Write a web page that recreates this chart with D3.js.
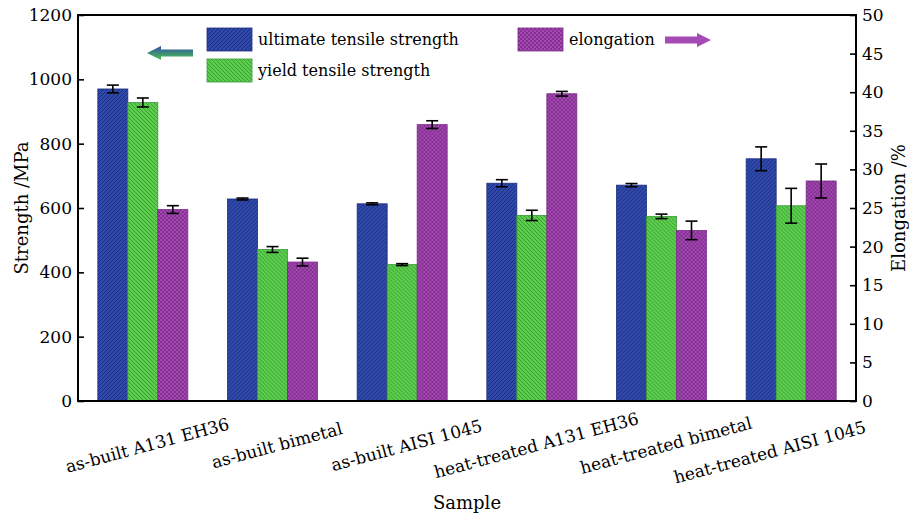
<!DOCTYPE html>
<html>
<head>
<meta charset="utf-8">
<script src="https://cdn.jsdelivr.net/npm/d3@7"></script>
<style>
body { margin: 0; background: #fff; }
svg text { font-family: 'DejaVu Serif', 'Liberation Serif', serif; fill: #000; }
</style>
</head>
<body>
<div id="chart"></div>
<script>
// values
var categories = ["as-built A131 EH36", "as-built bimetal", "as-built AISI 1045",
                  "heat-treated A131 EH36", "heat-treated bimetal", "heat-treated AISI 1045"];
var uts      = [970, 628, 613, 677, 671, 753];   // MPa
var utsErr   = [12, 3, 3, 11, 5, 37];
var yts      = [928, 471, 424, 577, 574, 607];   // MPa
var ytsErr   = [14, 9, 3, 16, 7, 54];
var elong    = [24.8, 18.0, 35.8, 39.8, 22.1, 28.5]; // %
var elongErr = [0.5, 0.5, 0.5, 0.3, 1.2, 2.2];
var strengthTicks = [0, 200, 400, 600, 800, 1000, 1200];
var elongTicks = [0, 5, 10, 15, 20, 25, 30, 35, 40, 45, 50];
var seriesKeys = ["uts", "yts", "elong"];
var seriesNames = {uts: "ultimate tensile strength", yts: "yield tensile strength", elong: "elongation"};

var margin = {top: 15, right: 53, bottom: 115, left: 78},
    width = 909 - margin.left - margin.right,
    height = 516 - margin.top - margin.bottom;

var svg = d3.select("#chart")
  .append("svg")
    .attr("width", 909)
    .attr("height", 516);

// fill patterns
var defs = svg.append("defs");
var pBlue = defs.append("pattern").attr("id", "p-uts")
  .attr("patternUnits", "userSpaceOnUse").attr("width", 4).attr("height", 4);
pBlue.append("rect").attr("width", 4).attr("height", 4).attr("fill", "#2f4aab");
pBlue.append("path").attr("d", "M0,4L4,0M-1,1L1,-1M3,5L5,3")
  .attr("stroke", "#1c2d80").attr("stroke-width", 1);

var pGreen = defs.append("pattern").attr("id", "p-yts")
  .attr("patternUnits", "userSpaceOnUse").attr("width", 4).attr("height", 4);
pGreen.append("rect").attr("width", 4).attr("height", 4).attr("fill", "#5fcd4c");
pGreen.append("path").attr("d", "M0,0L4,4M-1,3L1,5M3,-1L5,1")
  .attr("stroke", "#35a03a").attr("stroke-width", 1);

var pPurple = defs.append("pattern").attr("id", "p-elong")
  .attr("patternUnits", "userSpaceOnUse").attr("width", 4).attr("height", 4);
pPurple.append("rect").attr("width", 4).attr("height", 4).attr("fill", "#a448b4");
pPurple.append("rect").attr("width", 2).attr("height", 2).attr("fill", "#84308f");
pPurple.append("rect").attr("x", 2).attr("y", 2).attr("width", 2).attr("height", 2).attr("fill", "#84308f");

var grad = defs.append("linearGradient").attr("id", "g-arrow")
  .attr("x1", 0).attr("y1", 0).attr("x2", 0).attr("y2", 1);
grad.append("stop").attr("offset", "0%").attr("stop-color", "#2f4aab");
grad.append("stop").attr("offset", "100%").attr("stop-color", "#4cc84a");

var strokeColor = {uts: "#1c2d80", yts: "#3a9a3a", elong: "#7a2c88"};

var g = svg.append("g")
  .attr("transform", "translate(" + margin.left + "," + margin.top + ")");

var x0 = d3.scaleBand().domain(categories).range([0, width]).padding(0);
var bw = x0.bandwidth();
var x1 = d3.scaleBand().domain(seriesKeys).range([bw / 2 - 45, bw / 2 + 45]);
var y = d3.scaleLinear().domain([0, 1200]).range([height, 0]);
var y2 = d3.scaleLinear().domain([0, 50]).range([height, 0]);

var rows = categories.map(function(c, i) {
  return {cat: c, vals: [
    {key: "uts", v: uts[i], e: utsErr[i], s: y},
    {key: "yts", v: yts[i], e: ytsErr[i], s: y},
    {key: "elong", v: elong[i], e: elongErr[i], s: y2}
  ]};
});

var groups = g.selectAll(".grp")
  .data(rows)
  .enter()
  .append("g")
    .attr("class", "grp")
    .attr("transform", function(d) { return "translate(" + x0(d.cat) + ",0)"; });

groups.selectAll("rect")
  .data(function(d) { return d.vals; })
  .enter()
  .append("rect")
    .attr("x", function(d) { return x1(d.key); })
    .attr("y", function(d) { return d.s(d.v); })
    .attr("width", x1.bandwidth())
    .attr("height", function(d) { return height - d.s(d.v); })
    .attr("fill", function(d) { return "url(#p-" + d.key + ")"; })
    .attr("stroke", function(d) { return strokeColor[d.key]; })
    .attr("stroke-width", 0.8);

// error bars
var eb = groups.selectAll(".err")
  .data(function(d) { return d.vals; })
  .enter()
  .append("g")
    .attr("class", "err")
    .attr("stroke", "#000")
    .attr("stroke-width", 1.6);
eb.append("line")
  .attr("x1", function(d) { return x1(d.key) + x1.bandwidth() / 2; })
  .attr("x2", function(d) { return x1(d.key) + x1.bandwidth() / 2; })
  .attr("y1", function(d) { return d.s(d.v - d.e); })
  .attr("y2", function(d) { return d.s(d.v + d.e); });
eb.selectAll(".cap")
  .data(function(d) { return [d.v - d.e, d.v + d.e].map(function(t) { return {key: d.key, t: t, s: d.s}; }); })
  .enter()
  .append("line")
    .attr("class", "cap")
    .attr("x1", function(d) { return x1(d.key) + x1.bandwidth() / 2 - 6; })
    .attr("x2", function(d) { return x1(d.key) + x1.bandwidth() / 2 + 6; })
    .attr("y1", function(d) { return d.s(d.t); })
    .attr("y2", function(d) { return d.s(d.t); });

// axes
var yAxis = g.append("g")
  .call(d3.axisLeft(y).tickValues(strengthTicks).tickFormat(d3.format("d"))
    .tickSizeInner(-6).tickSizeOuter(0).tickPadding(6));
var y2Axis = g.append("g")
  .attr("transform", "translate(" + width + ",0)")
  .call(d3.axisRight(y2).tickValues(elongTicks).tickFormat(d3.format("d"))
    .tickSizeInner(-6).tickSizeOuter(0).tickPadding(6));
[yAxis, y2Axis].forEach(function(a) {
  a.attr("font-family", null).attr("font-size", null);
  a.select(".domain").remove();
  a.selectAll(".tick line").attr("stroke", "#000").attr("stroke-width", 1.6);
  a.selectAll(".tick text").attr("fill", "#000").style("font-size", "17px");
});

// frame
g.append("rect")
  .attr("width", width)
  .attr("height", height)
  .attr("fill", "none")
  .attr("stroke", "#000")
  .attr("stroke-width", 2);

// category labels, slid back along their slope if they would run past the right edge
var angle = 15, cosA = Math.cos(angle * Math.PI / 180), rightLimit = width + 11;
g.selectAll(".xlab")
  .data(categories)
  .enter()
  .append("text")
    .attr("class", "xlab")
    .attr("text-anchor", "middle")
    .attr("transform", function(d) {
      return "translate(" + (x0(d) + bw / 2 + 6) + "," + (height + 50) + ") rotate(-" + angle + ")";
    })
    .style("font-size", "17px")
    .text(function(d) { return d; })
    .each(function(d) {
      var half = this.getComputedTextLength() / 2 * cosA;
      var over = x0(d) + bw / 2 + 6 + half - rightLimit;
      if (over > 0) d3.select(this).attr("x", -over / cosA);
    });

// axis titles
g.append("text")
  .attr("text-anchor", "middle")
  .attr("transform", "translate(" + (28 - margin.left) + "," + (height / 2) + ") rotate(-90)")
  .style("font-size", "18px")
  .text("Strength /MPa");
g.append("text")
  .attr("text-anchor", "middle")
  .attr("transform", "translate(" + (width + 49) + "," + (height / 2) + ") rotate(-90)")
  .style("font-size", "18px")
  .text("Elongation /%");
g.append("text")
  .attr("text-anchor", "middle")
  .attr("x", width / 2)
  .attr("y", height + 108)
  .style("font-size", "18px")
  .text("Sample");

// legend
var legendPos = {uts: [129, 13], yts: [129, 44], elong: [440, 13]};
var leg = g.selectAll(".leg")
  .data(seriesKeys)
  .enter()
  .append("g")
    .attr("class", "leg")
    .attr("transform", function(d) { return "translate(" + legendPos[d][0] + "," + legendPos[d][1] + ")"; });
leg.append("rect")
  .attr("width", 45)
  .attr("height", 23)
  .attr("fill", function(d) { return "url(#p-" + d + ")"; })
  .attr("stroke", function(d) { return strokeColor[d]; })
  .attr("stroke-width", 0.8);
leg.append("text")
  .attr("x", 51)
  .attr("y", 17)
  .style("font-size", "16px")
  .text(function(d) { return seriesNames[d]; });

// direction arrows
g.append("path")
  .attr("transform", "translate(69,38)")
  .attr("d", "M0,0L14,-7L14,-3.5L46,-3.5L46,3.5L14,3.5L14,7Z")
  .attr("fill", "url(#g-arrow)");
g.append("path")
  .attr("transform", "translate(587,25)")
  .attr("d", "M46,0L32,-7L32,-3.5L0,-3.5L0,3.5L32,3.5L32,7Z")
  .attr("fill", "#a54bb5");
</script>
</body>
</html>
